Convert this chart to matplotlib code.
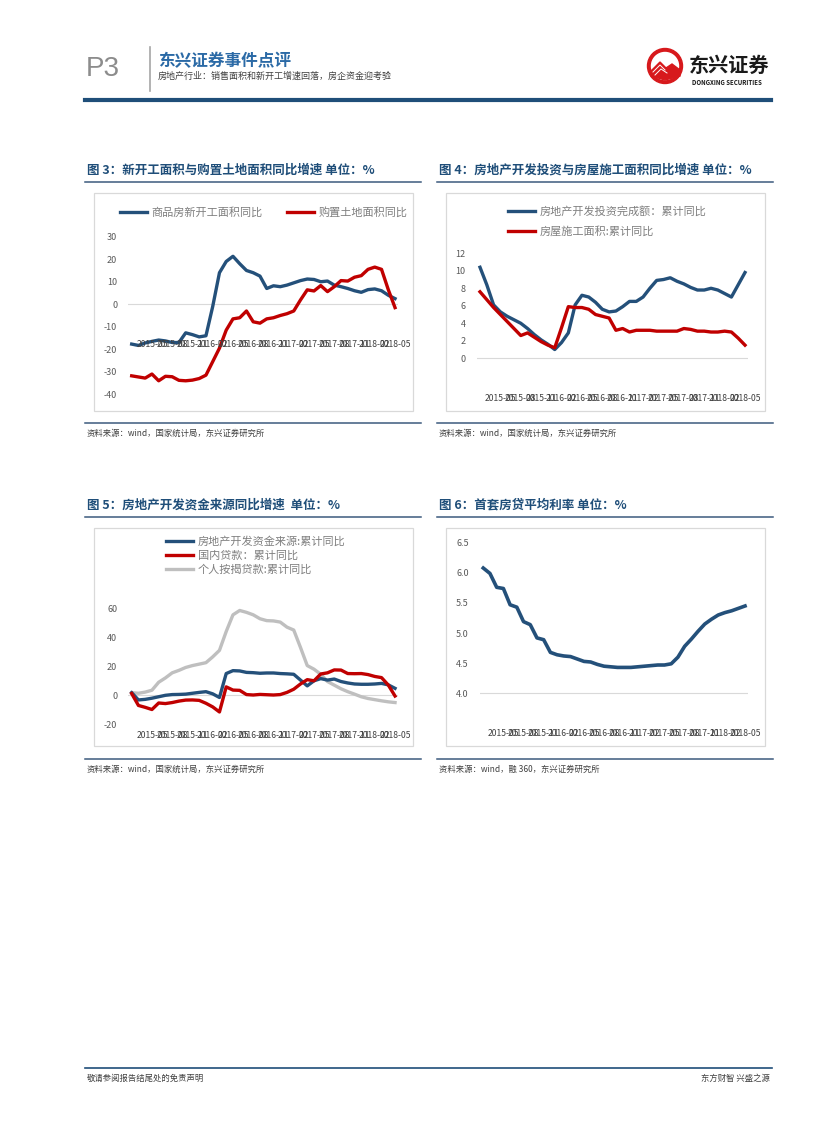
import matplotlib.pyplot as plt
from matplotlib.patches import Rectangle, Circle, Polygon
import numpy as np
import pandas as pd

plt.rcParams['font.family'] = ['Noto Sans CJK SC', 'DejaVu Sans']

W, H = 827, 1122
BLUE = '#24507a'
RED = '#c00000'
GRAY = '#bfbfbf'
TITLE_C = '#1f4e79'

# x-axis categories (monthly, cumulative yoy)
months = list(pd.date_range('2015-02', periods=40, freq='MS').strftime('%Y-%m'))

# 图3
new_start = [-17.7, -18.3, -17.2, -16.5, -15.9, -16.3, -17.0, -17.0, -12.7, -13.5,
             -14.5, -14.0, -1.0, 14.0, 19.0, 21.3, 18.0, 15.0, 14.0, 12.5,
             7.0, 8.2, 7.8, 8.5, 9.5, 10.5, 11.2, 11.0, 10.0, 10.3,
             8.5, 7.8, 7.0, 6.0, 5.3, 6.5, 6.8, 6.0, 4.0, 2.5]
land_buy = [-31.8, -32.3, -32.8, -31.0, -34.0, -32.0, -32.2, -33.8, -34.0, -33.7,
            -33.0, -31.5, -25.5, -19.5, -11.5, -6.5, -6.0, -3.0, -7.8, -8.4,
            -6.5, -6.0, -5.0, -4.2, -3.0, 1.9, 6.4, 5.9, 8.3, 5.6,
            7.8, 10.5, 10.3, 12.0, 12.7, 15.5, 16.5, 15.5, 6.5, -1.5]

# 图4
invest = [10.4, 8.4, 6.1, 5.3, 4.8, 4.4, 4.0, 3.4, 2.7, 2.1,
          1.6, 1.0, 1.8, 2.9, 6.1, 7.2, 7.0, 6.4, 5.6, 5.3,
          5.4, 5.9, 6.5, 6.5, 7.0, 8.0, 8.9, 9.0, 9.2, 8.8,
          8.5, 8.1, 7.8, 7.8, 8.0, 7.8, 7.4, 7.0, 8.4, 9.8]
construction = [7.6, 6.7, 5.8, 5.0, 4.2, 3.4, 2.6, 2.9, 2.4, 1.9,
                1.5, 1.2, 3.5, 5.9, 5.8, 5.8, 5.6, 5.0, 4.8, 4.6,
                3.2, 3.4, 3.0, 3.2, 3.2, 3.2, 3.1, 3.1, 3.1, 3.1,
                3.4, 3.3, 3.1, 3.1, 3.0, 3.0, 3.1, 3.0, 2.3, 1.5]

# 图5
funds = [1.8, -3.2, -2.8, -2.0, -1.0, 0.0, 0.5, 0.6, 0.8, 1.4,
         2.0, 2.5, 1.0, -1.5, 15.0, 17.0, 16.8, 15.8, 15.6, 15.2,
         15.4, 15.4, 15.0, 14.8, 14.5, 10.5, 6.5, 10.0, 11.5, 10.5,
         11.2, 9.5, 8.5, 7.8, 7.6, 7.6, 7.8, 8.2, 7.2, 4.8]
loans = [1.2, -7.0, -8.3, -9.8, -5.3, -5.7, -5.0, -4.0, -3.3, -3.2,
         -3.5, -5.5, -8.0, -11.5, 5.8, 3.6, 3.4, 0.5, 0.2, 0.6,
         0.4, 0.2, 0.5, 2.0, 4.2, 7.8, 10.8, 10.0, 14.7, 15.5,
         17.5, 17.4, 15.0, 14.9, 15.0, 14.3, 13.0, 12.2, 7.1, -0.5]
mortgage = [1.8, 1.4, 2.2, 3.5, 9.0, 12.0, 15.5, 17.2, 19.2, 20.5,
            21.5, 22.5, 26.5, 31.0, 44.0, 55.5, 58.5, 57.2, 55.5, 52.8,
            51.5, 51.3, 50.5, 47.0, 45.0, 33.0, 20.5, 18.0, 14.5, 9.5,
            7.0, 4.5, 2.5, 0.8, -1.0, -2.2, -3.0, -3.8, -4.5, -5.0]

# 图6
rate = [6.08, 5.99, 5.76, 5.74, 5.47, 5.43, 5.19, 5.14, 4.92, 4.89,
        4.68, 4.64, 4.62, 4.61, 4.57, 4.53, 4.52, 4.48, 4.45, 4.44,
        4.43, 4.43, 4.43, 4.44, 4.45, 4.46, 4.47, 4.47, 4.49, 4.60,
        4.78, 4.90, 5.03, 5.15, 5.23, 5.30, 5.34, 5.37, 5.41, 5.45]

fig = plt.figure(figsize=(W / 100, H / 100), dpi=100)

# page layer in pixel coordinates
page = fig.add_axes([0, 0, 1, 1])
page.set_xlim(0, W)
page.set_ylim(H, 0)
page.axis('off')


def add_axes_px(left, top, right, bottom):
    ax = fig.add_axes([left / W, 1 - bottom / H, (right - left) / W, (bottom - top) / H])
    ax.patch.set_alpha(0)
    return ax


def style(ax, ylim, yticks, fmt, base, label_y):
    x = np.arange(len(months))
    ax.set_xlim(-0.5, 39.5)
    ax.set_ylim(*ylim)
    ax.set_yticks(yticks)
    ax.set_yticklabels([fmt.format(v) for v in yticks])
    ax.set_xticks([])
    for s in ax.spines.values():
        s.set_visible(False)
    ax.tick_params(axis='y', length=0, pad=8, labelsize=6.5, labelcolor='#595959')
    ax.axhline(base, color='#d9d9d9', lw=0.8, zorder=0)
    for i in range(3, len(x), 3):
        ax.text(x[i], label_y, months[i], ha='center', va='center', fontsize=6.2,
                color='#404040', clip_on=False)
    return x


def frame(x0, x1, y_title, title, y_box0, y_box1, y_src, src):
    page.text(x0 + 2, y_title, title, fontsize=9, fontweight='bold', color=TITLE_C, va='center')
    page.plot([x0, x1], [y_title + 12, y_title + 12], color='#3c5a7d', lw=1.1)
    page.add_patch(Rectangle((x0 + 9, y_box0), x1 - x0 - 17, y_box1 - y_box0,
                             fill=False, ec='#d9d9d9', lw=0.9))
    page.plot([x0, x1], [y_src - 10, y_src - 10], color='#3c5a7d', lw=1.1)
    page.text(x0 + 2, y_src, src, fontsize=6, color='#404040', va='center')


# header
page.text(86, 69, 'P3', fontsize=20, color='#8c8c8c', va='center',
          family=['Liberation Sans', 'DejaVu Sans'])
page.plot([150, 150], [47, 91], color='#a6a6a6', lw=1.2)
page.text(158, 61, '东兴证券事件点评', fontsize=12, fontweight='bold', color='#2b6aa6', va='center')
page.text(158, 76, '房地产行业：销售面积和新开工增速回落，房企资金迎考验', fontsize=6.5,
          color='#404040', va='center')
# logo
page.add_patch(Circle((665, 66), 17.5, color='#d7191c'))
page.add_patch(Circle((665, 66), 13.5, color='white'))
page.add_patch(Polygon([[651, 76], [651, 71], [660, 62], [666, 68], [672, 64], [680, 70],
                        [680, 76], [665, 80]], closed=True, color='#d7191c'))
page.plot([653, 660, 665], [72, 65, 70], color='white', lw=0.7)
page.plot([655, 661, 667], [75, 69, 73], color='white', lw=0.7)
page.text(689, 65, '东兴证券', fontsize=14.5, fontweight='bold', color='#1a1a1a', va='center')
page.text(692, 82, 'DONGXING SECURITIES', fontsize=4.4, fontweight='bold', color='#1a1a1a', va='center')
page.plot([85, 771], [100, 100], color=TITLE_C, lw=3)

# frames
src1 = '资料来源：wind，国家统计局，东兴证券研究所'
frame(85, 421, 170, '图 3：新开工面积与购置土地面积同比增速 单位：%', 193, 411, 433, src1)
frame(437, 773, 170, '图 4：房地产开发投资与房屋施工面积同比增速 单位：%', 193, 411, 433, src1)
frame(85, 421, 505, '图 5：房地产开发资金来源同比增速  单位：%', 528, 746, 769, src1)
frame(437, 773, 505, '图 6：首套房贷平均利率 单位：%', 528, 746, 769,
      '资料来源：wind，融 360，东兴证券研究所')

leg_kw = dict(frameon=False, fontsize=8, labelcolor='#7f7f7f', handlelength=2.4,
              handletextpad=0.45, borderpad=0, borderaxespad=0,
              bbox_transform=fig.transFigure)

# 图3
ax3 = add_axes_px(128.3, 232.2, 398.4, 398.8)
x = style(ax3, (-42, 32), list(range(-40, 31, 10)), '{:d}', 0, -18)
ax3.plot(x, new_start, color=BLUE, lw=2.4, label='商品房新开工面积同比')
ax3.plot(x, land_buy, color=RED, lw=2.4, label='购置土地面积同比')
ax3.legend(loc='center left', bbox_to_anchor=(120 / W, 1 - 212 / H), ncol=2,
           columnspacing=2.2, **leg_kw)

# 图4
ax4 = add_axes_px(476.6, 248.9, 748.4, 406.4)
x = style(ax4, (-5.5, 12.5), list(range(0, 13, 2)), '{:d}', 0, -4.6)
ax4.plot(x, invest, color=BLUE, lw=2.4, label='房地产开发投资完成额：累计同比')
ax4.plot(x, construction, color=RED, lw=2.4, label='房屋施工面积:累计同比')
ax4.legend(loc='upper left', bbox_to_anchor=(508 / W, 1 - 206 / H), labelspacing=0.85, **leg_kw)

# 图5
ax5 = add_axes_px(128.3, 602.5, 398.4, 738.8)
x = style(ax5, (-30, 64), list(range(-20, 61, 20)), '{:d}', 0, -28)
ax5.plot(x, funds, color=BLUE, lw=2.4, label='房地产开发资金来源:累计同比')
ax5.plot(x, loans, color=RED, lw=2.4, label='国内贷款：累计同比')
ax5.plot(x, mortgage, color=GRAY, lw=2.4, label='个人按揭贷款:累计同比', zorder=1)
ax5.legend(loc='upper left', bbox_to_anchor=(166 / W, 1 - 536 / H), labelspacing=0.36, **leg_kw)

# 图6
ax6 = add_axes_px(479.9, 536.7, 748.4, 738.5)
x = style(ax6, (3.25, 6.6), [4.0, 4.5, 5.0, 5.5, 6.0, 6.5], '{:.1f}', 4.0, 3.34)
ax6.plot(x, rate, color=BLUE, lw=2.6)

# footer
page.plot([85, 772], [1068, 1068], color=TITLE_C, lw=1.2)
page.text(87, 1078, '敬请参阅报告结尾处的免责声明', fontsize=6, color='#404040', va='center')
page.text(770, 1078, '东方财智 兴盛之源', fontsize=6, color='#404040', va='center', ha='right')

fig.savefig('out.png', dpi=100)
